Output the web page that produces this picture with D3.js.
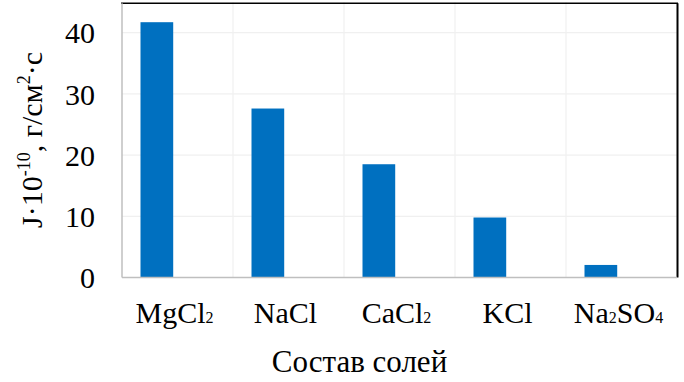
<!DOCTYPE html>
<html><head><meta charset="utf-8">
<script src="https://cdn.jsdelivr.net/npm/d3@7"></script>
<style>html,body{margin:0;padding:0;background:#fff;} svg{display:block;} svg text{font-family:"Liberation Serif","Times New Roman",Times,serif;}</style>
</head><body>
<script>
const categories = ["MgCl2", "NaCl", "CaCl2", "KCl", "Na2SO4"];
const values = [41.7, 27.6, 18.5, 9.8, 2.05];
const seriesNames = ["J", "empty"];
const yTicks = [0, 10, 20, 30, 40];
const xTitle = "Состав солей";

const W = 684, H = 382;
const m = {left: 122, right: 7, top: 2, bottom: 104.5};
const svg = d3.select("body").append("svg").attr("width", W).attr("height", H);
const font = "Liberation Serif, Times New Roman, serif";

const x = d3.scaleBand().domain(categories).range([m.left, W - m.right]).paddingInner(0).paddingOuter(0);
const xs = d3.scaleBand().domain(seriesNames).range([0, x.bandwidth()]).paddingInner(0.208).paddingOuter(0.448);
const y = d3.scaleLinear().domain([0, 45]).range([H - m.bottom, m.top]);

// gridlines
const g = svg.append("g");
g.selectAll("line.h").data(yTicks.filter(d => d > 0)).enter().append("line")
  .attr("x1", m.left).attr("x2", W - m.right)
  .attr("y1", d => y(d)).attr("y2", d => y(d))
  .attr("stroke", "#f0f0f0").attr("stroke-width", 1.2);
g.selectAll("line.v").data(categories.slice(1)).enter().append("line")
  .attr("x1", d => x(d)).attr("x2", d => x(d))
  .attr("y1", y(45)).attr("y2", y(0))
  .attr("stroke", "#f0f0f0").attr("stroke-width", 1.2);

// bars
svg.append("g").selectAll("rect").data(categories).enter().append("rect")
  .attr("x", (d) => x(d) + xs("J"))
  .attr("width", xs.bandwidth())
  .attr("y", (d, i) => y(values[i]))
  .attr("height", (d, i) => y(0) - y(values[i]))
  .attr("fill", "#0070C0");

// frame: top & right black
svg.append("line").attr("x1", m.left - 1).attr("x2", W - m.right + 1)
  .attr("y1", y(44.8)).attr("y2", y(44.8)).attr("stroke", "#000").attr("stroke-width", 1.6);
svg.append("line").attr("x1", W - m.right + 0.5).attr("x2", W - m.right + 0.5)
  .attr("y1", y(44.8)).attr("y2", y(0)).attr("stroke", "#000").attr("stroke-width", 2);

// axes
const yAxis = d3.axisLeft(y).tickValues(yTicks).tickSize(0).tickPadding(27);
const ya = svg.append("g").attr("transform", `translate(${m.left},0)`).call(yAxis).attr("font-family", null);
ya.select(".domain").remove();
ya.selectAll("text").style("font-family", font).attr("font-size", 30).attr("fill", "#000").attr("dy", "0.34em");
svg.append("line").attr("x1", m.left).attr("x2", m.left).attr("y1", y(44.8)).attr("y2", y(0))
  .attr("stroke", "#bfbfbf").attr("stroke-width", 1.5);
svg.append("line").attr("x1", m.left).attr("x2", W - m.right).attr("y1", y(0)).attr("y2", y(0))
  .attr("stroke", "#bfbfbf").attr("stroke-width", 1.5);

const xAxis = d3.axisBottom(x).tickSize(0).tickPadding(0).tickFormat("");
const xa = svg.append("g").attr("transform", `translate(0,${y(0)})`).call(xAxis).attr("font-family", null);
xa.select(".domain").remove();
xa.selectAll(".tick").each(function(d) {
  const t = d3.select(this).append("text")
    .attr("y", 45).attr("x", -3).attr("text-anchor", "middle")
    .style("font-family", font).attr("font-size", 30).attr("fill", "#000");
  const parts = d.match(/[A-Za-z]+|\d+/g);
  parts.forEach(p => {
    const sub = /^\d+$/.test(p);
    t.append("tspan").text(p).attr("font-size", sub ? 16 : 30);
  });
});

// x title
svg.append("text").attr("x", 359.5).attr("y", 371.5).attr("text-anchor", "middle")
  .style("font-family", font).attr("font-size", 31).attr("fill", "#000").text(xTitle);

// y title
const yt = svg.append("text").attr("transform", "translate(42,140) rotate(-90)")
  .attr("text-anchor", "middle").style("font-family", font).attr("font-size", 30).attr("fill", "#000");
yt.append("tspan").text("J·10");
yt.append("tspan").text("-10").attr("font-size", 18).attr("dy", -12);
yt.append("tspan").text(", г/см").attr("dy", 12);
yt.append("tspan").text("2").attr("font-size", 18).attr("dy", -12);
yt.append("tspan").text("·с").attr("dy", 12);
</script>
</body></html>
